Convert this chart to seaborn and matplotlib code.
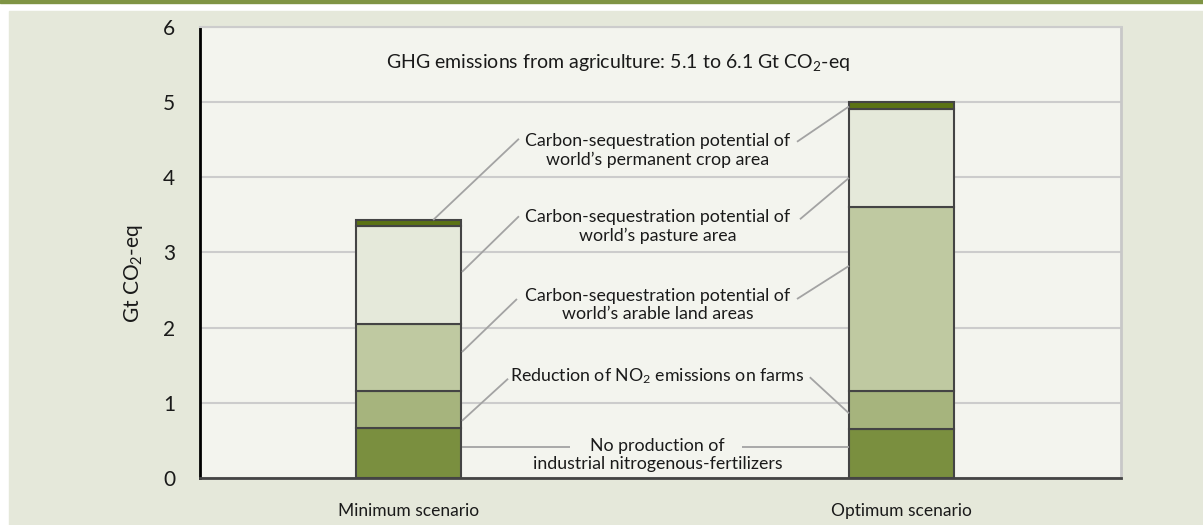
import matplotlib
matplotlib.use("Agg")
import matplotlib.pyplot as plt
import matplotlib.patches as mpatches
import seaborn as sns
import numpy as np
import pandas as pd

# Данные (Gt CO2-eq)
scenarios = ["Minimum scenario", "Optimum scenario"]
layers = [
    "No production of industrial nitrogenous-fertilizers",
    "Reduction of NO2 emissions on farms",
    "Carbon-sequestration potential of world's arable land areas",
    "Carbon-sequestration potential of world's pasture area",
    "Carbon-sequestration potential of world's permanent crop area",
]
min_values = [0.66, 0.50, 0.89, 1.30, 0.08]
opt_values = [0.65, 0.51, 2.44, 1.30, 0.10]
layer_colors = ["#7a8f3f", "#a6b47d", "#bfc9a1", "#e5e9da", "#5b7314"]
y_ticks = [0, 1, 2, 3, 4, 5, 6]

sns.set_style("white")
plt.rcParams["font.family"] = ["Lato", "DejaVu Sans"]
plt.rcParams["mathtext.fontset"] = "custom"
plt.rcParams["mathtext.rm"] = "Lato"
plt.rcParams["mathtext.it"] = "Lato:italic"
plt.rcParams["mathtext.bf"] = "Lato:bold"

TXT = "#1a1a1a"
LEAD = "#a3a3a3"

fig = plt.figure(figsize=(12.03, 5.25), dpi=100, facecolor="white")
# фон и полоса сверху
fig.patches.append(mpatches.Rectangle((0, 1 - 3 / 525), 1, 3 / 525, transform=fig.transFigure,
                                      color="#7f9444", zorder=-5))
fig.patches.append(mpatches.Rectangle((9 / 1203, 0), 1, 1 - 11 / 525, transform=fig.transFigure,
                                      color="#e5e8da", zorder=-5))

ax = fig.add_axes([200 / 1203, 1 - 478 / 525, 921 / 1203, 451.3 / 525])
ax.set_zorder(2)
ax.set_facecolor("#f3f4ee")

df = pd.DataFrame({"scenario": scenarios})
bottom = np.zeros(len(scenarios))
for i, name in enumerate(layers):
    vals = np.array([min_values[i], opt_values[i]])
    sns.barplot(x=df["scenario"], y=vals, bottom=bottom, color=layer_colors[i],
                width=0.213, edgecolor="#444444", linewidth=1.5, saturation=1,
                ax=ax, zorder=3)
    bottom = bottom + vals

ax.set_xlim(-0.4229, 1.4452)
ax.set_ylim(0, 6)
ax.set_yticks(y_ticks)
ax.yaxis.grid(True, color="#cccccc", linewidth=1.5, zorder=0)
ax.set_axisbelow(True)
ax.tick_params(axis="y", length=0, pad=18, labelsize=15, labelcolor=TXT)
ax.tick_params(axis="x", length=0, pad=18, labelsize=12.5, labelcolor=TXT)
ax.set_xlabel("")
ax.set_ylabel("Gt CO$_2$-eq", fontsize=15, color=TXT)
ax.yaxis.set_label_coords(-0.060, 0.454)

ax.spines["left"].set_color("black")
ax.spines["left"].set_linewidth(2)
ax.spines["bottom"].set_color("#444444")
ax.spines["bottom"].set_linewidth(2)
ax.spines["right"].set_color("#c8c8c8")
ax.spines["right"].set_linewidth(2)
ax.spines["top"].set_color("#cccccc")
ax.spines["top"].set_linewidth(1.5)

ax.text(0.454, 5.53, "GHG emissions from agriculture: 5.1 to 6.1 Gt CO$_2$-eq",
        transform=ax.get_yaxis_transform(), ha="center", va="center",
        fontsize=14, color=TXT)

# подписи слоёв с выносками
tot_min = sum(min_values)
labels = [
    ("Carbon-sequestration potential of\nworld\u2019s permanent crop area", 4.35,
     [(0.224, 4.51), (0.05, tot_min)], [(0.788, 4.47), (0.8935, 4.94)]),
    ("Carbon-sequestration potential of\nworld\u2019s pasture area", 3.35,
     [(0.224, 3.48), (0.1085, 2.74)], [(0.794, 3.44), (0.8935, 3.99)]),
    ("Carbon-sequestration potential of\nworld\u2019s arable land areas", 2.30,
     [(0.220, 2.38), (0.1085, 1.675)], [(0.788, 2.38), (0.8935, 2.82)]),
    ("Reduction of NO$_2$ emissions on farms", 1.356,
     [(0.202, 1.32), (0.1085, 0.76)], [(0.814, 1.34), (0.8935, 0.86)]),
    ("No production of\nindustrial nitrogenous-fertilizers", 0.306,
     [(0.328, 0.41), (0.1085, 0.41)], [(0.677, 0.41), (0.8935, 0.41)]),
]
for text, ty, left, right in labels:
    ax.text(0.505, ty, text, ha="center", va="center", fontsize=12.8, color=TXT,
            linespacing=1.2, zorder=5)
    for seg in (left, right):
        ax.plot([seg[0][0], seg[1][0]], [seg[0][1], seg[1][1]], color=LEAD,
                linewidth=1.3, zorder=4, solid_capstyle="butt")

plt.savefig("out.png", dpi=100, facecolor=fig.get_facecolor())
